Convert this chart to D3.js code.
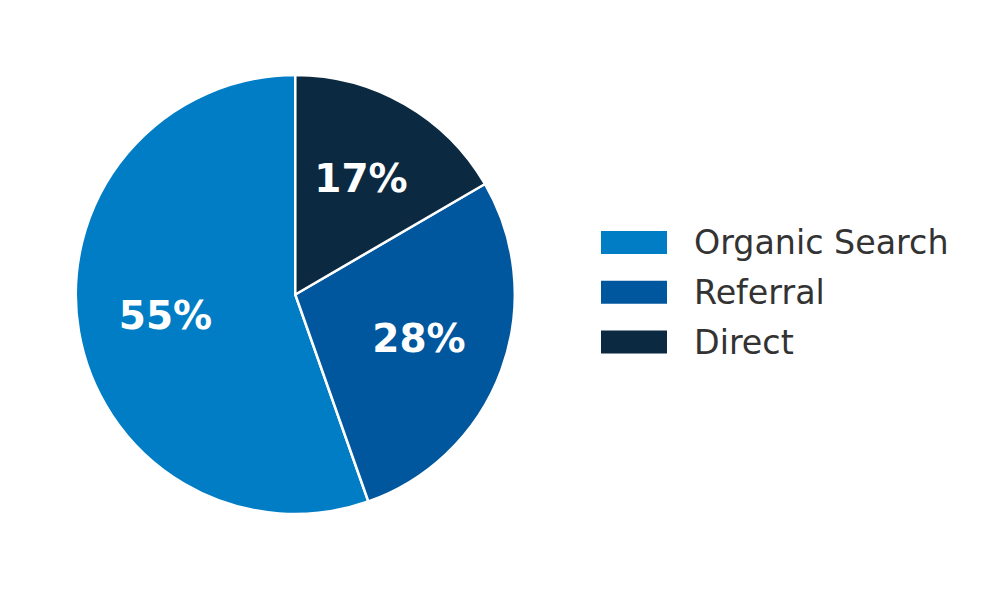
<!DOCTYPE html>
<html><head><meta charset="utf-8">
<script src="https://cdn.jsdelivr.net/npm/d3@7"></script>
<style>html,body{margin:0;padding:0;background:#fff;}</style>
</head><body>
<svg id="c" width="982" height="590"></svg>
<script>
const categories = ["Organic Search", "Referral", "Direct"];
const values = [55.4, 28.0, 16.6];
const colors = ["#007DC4", "#00579E", "#0B2940"];

const svg = d3.select("#c");
const cx = 295.3, cy = 294.5, r = 219.5;
const g = svg.append("g").attr("transform", `translate(${cx},${cy})`);

const data = categories.map((c, i) => ({name: c, value: values[i], color: colors[i]}));
const pie = d3.pie().value(d => d.value).sort(null).startAngle(0).endAngle(-2 * Math.PI);
const arcs = pie(data);
const arc = d3.arc().innerRadius(0).outerRadius(r);
const labelArc = d3.arc().innerRadius(r * 0.6).outerRadius(r * 0.6);

g.selectAll("path").data(arcs).join("path")
  .attr("d", arc)
  .attr("fill", d => d.data.color)
  .attr("stroke", "#fff")
  .attr("stroke-width", 2.5)
  .attr("stroke-linejoin", "round");

g.selectAll("text.pct").data(arcs).join("text")
  .attr("class", "pct")
  .attr("transform", d => { const [x, y] = labelArc.centroid(d); return `translate(${x},${y - 1.5})`; })
  .attr("text-anchor", "middle")
  .attr("dominant-baseline", "central")
  .attr("font-family", "DejaVu Sans")
  .attr("font-weight", "bold")
  .attr("font-size", 39)
  .attr("fill", "#fff")
  .text(d => Math.round(d.data.value) + "%");

const legend = svg.append("g").attr("transform", "translate(601,0)");
const ly = d3.scalePoint().domain(categories).range([242.5, 342]);
const items = legend.selectAll("g").data(data).join("g")
  .attr("transform", d => `translate(0,${ly(d.name)})`);
items.append("rect").attr("x", 0).attr("y", -11.5).attr("width", 66).attr("height", 23)
  .attr("fill", d => d.color);
items.append("text").attr("x", 93).attr("y", 0)
  .attr("dominant-baseline", "central")
  .attr("font-family", "DejaVu Sans")
  .attr("font-size", 33.3)
  .attr("fill", "#333333")
  .text(d => d.name);
</script>
</body></html>
